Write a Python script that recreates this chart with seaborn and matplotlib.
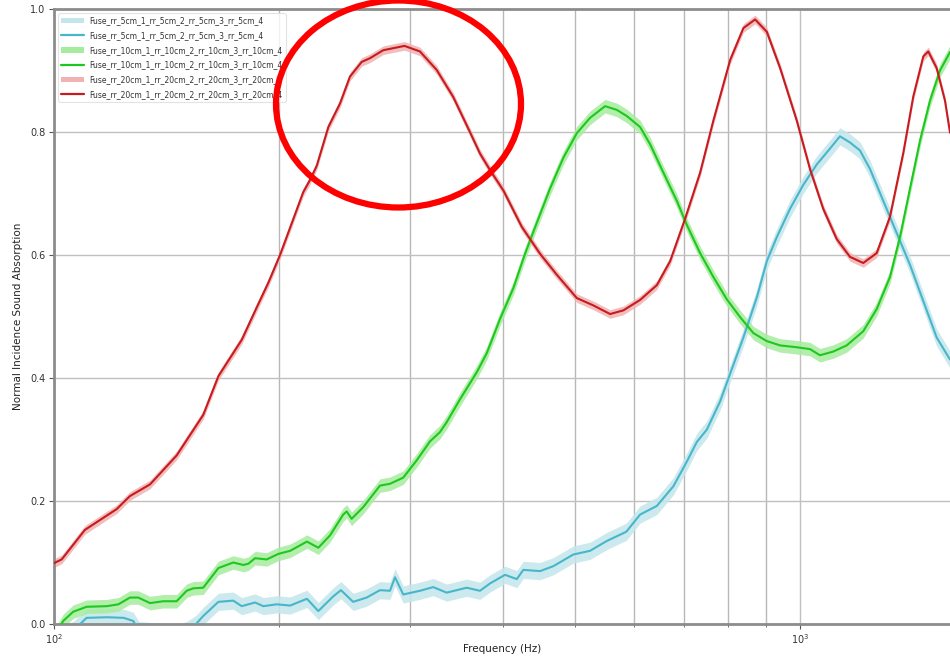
import numpy as np
import pandas as pd
import matplotlib
matplotlib.use("Agg")
import matplotlib.pyplot as plt
from matplotlib.patches import Ellipse, Patch
from matplotlib.lines import Line2D
from matplotlib.ticker import FixedLocator, NullFormatter
import seaborn as sns

# ---------------- data ----------------
labels = [
    "Fuse_rr_5cm_1_rr_5cm_2_rr_5cm_3_rr_5cm_4",
    "Fuse_rr_10cm_1_rr_10cm_2_rr_10cm_3_rr_10cm_4",
    "Fuse_rr_20cm_1_rr_20cm_2_rr_20cm_3_rr_20cm_4",
]

freq_5 = [100.0, 106.0, 108.4, 110.6, 117.7, 124.0, 127.7, 130.0, 146.0, 150.6, 155.0,
          158.5, 166.1, 173.9, 178.5, 186.0, 190.8, 198.9, 207.3, 218.3, 226.1, 236.8,
          242.5, 249.3, 251.8, 262.5, 273.5, 282.1, 286.5, 293.9, 309.4, 322.4, 336.0,
          357.4, 372.4, 384.2, 402.4, 417.2, 425.8, 448.3, 467.0, 496.8, 523.1, 550.9,
          585.0, 610.6, 642.9, 676.6, 705.2, 727.3, 750.1, 781.6, 806.1, 839.8, 875.3,
          902.7, 931.0, 969.6, 1010.2, 1052.9, 1097.0, 1131.4, 1166.9, 1203.4, 1241.1,
          1293.3, 1347.7, 1404.5, 1463.4, 1524.8, 1589.0]
abs_5 = [-0.03, -0.01, 0.0, 0.010, 0.011, 0.010, 0.005, -0.01, -0.015, -0.01, 0.0,
         0.013, 0.036, 0.038, 0.029, 0.035, 0.029, 0.032, 0.030, 0.041, 0.021, 0.045,
         0.055, 0.041, 0.036, 0.043, 0.055, 0.054, 0.076, 0.048, 0.054, 0.060, 0.051,
         0.059, 0.054, 0.066, 0.080, 0.073, 0.088, 0.086, 0.094, 0.113, 0.119, 0.135,
         0.150, 0.178, 0.192, 0.224, 0.264, 0.296, 0.316, 0.362, 0.407, 0.466, 0.531,
         0.590, 0.629, 0.675, 0.714, 0.747, 0.773, 0.793, 0.783, 0.770, 0.740,
         0.688, 0.636, 0.584, 0.525, 0.466, 0.430]

freq_10 = [100.0, 102.9, 106.1, 110.6, 117.7, 122.0, 126.4, 129.7, 134.5, 140.1, 146.0,
           150.6, 153.7, 158.5, 166.1, 173.9, 179.4, 182.2, 186.0, 192.8, 199.9, 207.3,
           218.3, 226.1, 234.4, 244.2, 246.8, 250.6, 259.7, 273.5, 282.1, 293.9, 306.3,
           319.2, 329.1, 336.0, 350.0, 368.6, 380.2, 396.2, 412.8, 428.0, 443.7, 462.3,
           481.7, 502.1, 523.1, 548.0, 568.1, 585.9, 610.6, 629.7, 656.0, 683.8, 705.2,
           734.8, 765.6, 797.8, 831.3, 866.1, 902.7, 940.5, 989.9, 1031.3, 1063.6,
           1108.2, 1155.1, 1215.7, 1267.1, 1320.1, 1361.5, 1404.5, 1448.6, 1493.9,
           1540.7, 1589.0]
abs_10 = [-0.02, 0.005, 0.020, 0.028, 0.029, 0.032, 0.043, 0.043, 0.034, 0.037, 0.037,
          0.054, 0.058, 0.059, 0.091, 0.100, 0.096, 0.098, 0.107, 0.105, 0.114, 0.119,
          0.134, 0.124, 0.144, 0.178, 0.183, 0.171, 0.190, 0.225, 0.228, 0.238, 0.266,
          0.297, 0.312, 0.328, 0.365, 0.409, 0.440, 0.496, 0.546, 0.602, 0.652, 0.708,
          0.758, 0.798, 0.823, 0.842, 0.836, 0.826, 0.808, 0.780, 0.734, 0.688, 0.649,
          0.603, 0.564, 0.528, 0.499, 0.473, 0.460, 0.453, 0.450, 0.447, 0.437,
          0.443, 0.453, 0.476, 0.512, 0.564, 0.629, 0.708, 0.786, 0.851,
          0.900, 0.930]

freq_20 = [100.0, 102.4, 110.0, 121.4, 126.4, 134.5, 146.0, 158.5, 166.1, 178.5, 187.0,
           193.8, 200.9, 215.8, 220.4, 225.0, 233.2, 241.7, 249.3, 258.5, 265.2, 276.3,
           295.0, 309.4, 325.8, 342.9, 361.0, 372.4, 384.2, 400.3, 423.6, 448.3, 472.0,
           502.1, 528.5, 556.5, 579.8, 610.6, 642.9, 669.8, 701.5, 734.8, 765.6, 806.1,
           839.8, 870.7, 902.7, 940.5, 989.9, 1031.3, 1074.5, 1120.0, 1166.9, 1215.7,
           1267.1, 1320.1, 1375.7, 1418.9, 1463.4, 1486.0, 1524.8, 1564.6, 1589.0]
abs_20 = [0.099, 0.105, 0.153, 0.187, 0.208, 0.227, 0.274, 0.340, 0.403, 0.462, 0.515,
          0.555, 0.600, 0.702, 0.722, 0.745, 0.808, 0.846, 0.890, 0.914, 0.920, 0.933,
          0.940, 0.931, 0.901, 0.857, 0.800, 0.765, 0.738, 0.705, 0.646, 0.602, 0.568,
          0.530, 0.518, 0.504, 0.510, 0.527, 0.551, 0.590, 0.659, 0.734, 0.819, 0.917,
          0.969, 0.983, 0.963, 0.904, 0.819, 0.740, 0.675, 0.626, 0.597, 0.587,
          0.603, 0.662, 0.766, 0.858, 0.923, 0.931, 0.904, 0.851, 0.799]

spread = [0.014, 0.011, 0.007]  # half-width of the shaded band per series

line_colors = ["#48b6ca", "#1ec81e", "#c81b1f"]
band_colors = ["#c3e6ec", "#a6ec9e", "#f0b2b2"]

# ---------------- figure ----------------
sns.set_style("white")
plt.rcParams["font.family"] = ["DejaVu Sans"]

fig = plt.figure(figsize=(9.5, 6.6), dpi=100)
ax = fig.add_axes([54 / 950, 36 / 660, 1 - 54 / 950, 615 / 660])

freqs = [freq_5, freq_10, freq_20]
vals = [abs_5, abs_10, abs_20]

frames = []
for lab, f, v in zip(labels, freqs, vals):
    frames.append(pd.DataFrame({"Frequency": f, "Absorption": v, "series": lab}))
df = pd.concat(frames, ignore_index=True)

for lab, f, v, s, bc in zip(labels, freqs, vals, spread, band_colors):
    v = np.asarray(v)
    ax.fill_between(f, v - s, v + s, color=bc, alpha=0.85, lw=0, zorder=2)

sns.lineplot(data=df, x="Frequency", y="Absorption", hue="series",
             palette=dict(zip(labels, line_colors)), estimator=None, sort=True,
             linewidth=1.5, legend=False, ax=ax, zorder=3)

ax.set_xscale("log")
ax.set_xlim(100, 1589)
ax.set_ylim(0, 1.0)
ax.set_yticks([0.0, 0.2, 0.4, 0.6, 0.8, 1.0])
ax.set_yticklabels(["0.0", "0.2", "0.4", "0.6", "0.8", "1.0"])
ax.xaxis.set_minor_locator(FixedLocator([200, 300, 400, 500, 600, 700, 800, 900]))
ax.xaxis.set_minor_formatter(NullFormatter())
ax.set_xticks([100, 1000])
ax.set_xticklabels([r"$10^2$", r"$10^3$"])

ax.grid(True, which="major", axis="both", color="#c0c0c0", linewidth=1.0, zorder=0)
ax.grid(True, which="minor", axis="x", color="#b8b8b8", linewidth=1.0, zorder=0)
ax.set_axisbelow(True)

ax.tick_params(axis="both", which="major", labelsize=7, colors="#555555",
               labelcolor="#333333", length=3.5, width=0.8, direction="out",
               left=True, bottom=True, pad=2.5)
ax.tick_params(axis="x", which="minor", length=2, width=0.6, colors="#555555", bottom=True)

for side in ["left", "bottom", "top"]:
    ax.spines[side].set_color("#8c8c8c")
    ax.spines[side].set_linewidth(2.0)
ax.spines["right"].set_visible(False)

ax.set_xlabel("Frequency (Hz)", fontsize=7.5, color="#222222")
ax.xaxis.label.set_va("center")
ax.xaxis.set_label_coords(0.5, -0.041)
ax.set_ylabel("Normal Incidence Sound Absorption", fontsize=7.5, color="#222222", labelpad=5)

handles, hlabels = [], []
for lab, lc, bc in zip(labels, line_colors, band_colors):
    handles.append(Patch(facecolor=bc, edgecolor="none"))
    hlabels.append(lab)
    handles.append(Line2D([0], [0], color=lc, lw=1.6))
    hlabels.append(lab)
leg = ax.legend(handles, hlabels, loc="upper left", fontsize=5.5, frameon=True,
                bbox_to_anchor=(0.002, 0.997), borderaxespad=0.3, handlelength=3.0,
                handletextpad=0.7, labelspacing=0.75, fancybox=True)
leg.get_frame().set_edgecolor("#dddddd")
leg.get_frame().set_linewidth(0.8)
for t in leg.get_texts():
    t.set_color("#333333")

# red highlight ellipse (drawn on top, in figure pixels)
ell = Ellipse((398.5 / 950, 1 - 104 / 660), 245 / 950, 207 / 660,
              transform=fig.transFigure, fill=False, edgecolor="#ff0000",
              linewidth=4.5, zorder=10)
fig.patches.append(ell)

fig.savefig("out.png", dpi=100)
